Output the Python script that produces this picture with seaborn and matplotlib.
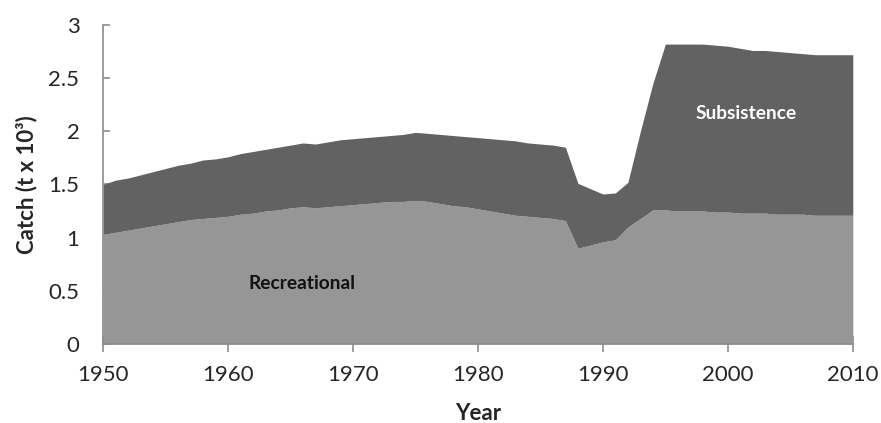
import matplotlib
matplotlib.use('Agg')
import matplotlib.pyplot as plt
import seaborn as sns
import numpy as np

# Data (t x 10^3)
years = list(range(1950, 2011))
recreational = [
    1.03, 1.05, 1.07, 1.09, 1.11, 1.13, 1.15, 1.17, 1.18, 1.19,
    1.20, 1.22, 1.23, 1.25, 1.26, 1.28, 1.29, 1.28, 1.29, 1.30,
    1.31, 1.32, 1.33, 1.34, 1.34, 1.35, 1.34, 1.32, 1.30, 1.29,
    1.27, 1.25, 1.23, 1.21, 1.20, 1.19, 1.18, 1.16, 0.90, 0.93,
    0.96, 0.98, 1.10, 1.18, 1.26, 1.26, 1.25, 1.25, 1.25, 1.24,
    1.24, 1.23, 1.23, 1.23, 1.22, 1.22, 1.22, 1.21, 1.21, 1.21,
    1.21,
]
subsistence = [
    0.47, 0.49, 0.49, 0.50, 0.51, 0.52, 0.53, 0.53, 0.55, 0.55,
    0.56, 0.57, 0.58, 0.58, 0.59, 0.59, 0.60, 0.60, 0.61, 0.62,
    0.62, 0.62, 0.62, 0.62, 0.63, 0.64, 0.64, 0.65, 0.66, 0.66,
    0.67, 0.68, 0.69, 0.70, 0.69, 0.69, 0.69, 0.69, 0.61, 0.53,
    0.45, 0.44, 0.42, 0.82, 1.19, 1.56, 1.57, 1.57, 1.57, 1.57,
    1.56, 1.55, 1.53, 1.53, 1.53, 1.52, 1.51, 1.51, 1.51, 1.51,
    1.51,
]
x_ticks = [1950, 1960, 1970, 1980, 1990, 2000, 2010]
y_ticks = [0, 0.5, 1, 1.5, 2, 2.5, 3]
y_tick_labels = ['0', '0.5', '1', '1.5', '2', '2.5', '3']

sns.set_style('white')
plt.rcParams['font.family'] = ['Lato', 'DejaVu Sans']

fig = plt.figure(figsize=(8.81, 4.23), dpi=100)
ax = fig.add_axes([0.117, 0.187, 0.851, 0.754])

rec = np.array(recreational)
sub = np.array(subsistence)
ax.fill_between(years, 0, rec, color='#969696', linewidth=0)
ax.fill_between(years, rec, rec + sub, color='#626262', linewidth=0)

ax.text(1965.9, 0.57, 'Recreational', ha='center', va='center',
        fontsize=13.8, fontweight='bold', color='#111111')
ax.text(2001.5, 2.17, 'Subsistence', ha='center', va='center',
        fontsize=13.8, fontweight='bold', color='white')

ax.set_xlim(1950, 2010)
ax.set_ylim(0, 3)
ax.set_xticks(x_ticks)
ax.set_yticks(y_ticks)
ax.set_yticklabels(y_tick_labels)

for side in ['top', 'right']:
    ax.spines[side].set_visible(False)
for side in ['left', 'bottom']:
    ax.spines[side].set_color('#8c8c8c')
    ax.spines[side].set_linewidth(1.2)

ax.tick_params(axis='x', direction='inout', length=11, width=1.2, color='#8c8c8c',
               labelsize=16, pad=10, bottom=True)
ax.tick_params(axis='y', direction='in', length=5, width=1.2, color='#8c8c8c',
               labelsize=16, pad=17, left=True)

ax.set_xlabel('Year', fontsize=16, fontweight='bold', labelpad=13)
ax.set_ylabel('Catch (t x 10³)', fontsize=16, fontweight='bold', labelpad=8)

fig.savefig('out.png', dpi=100, facecolor='white')
